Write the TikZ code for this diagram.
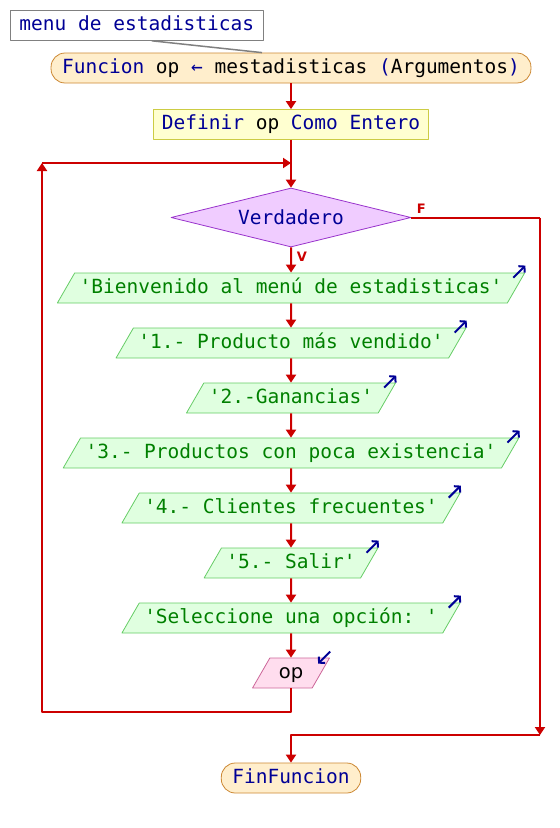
\documentclass[tikz,border=0pt]{standalone}
\usepackage{fontspec}
\setmonofont{DejaVu Sans Mono}
\newfontfamily\lblfont{DejaVu Sans}
\usetikzlibrary{shapes.geometric,arrows.meta}
\definecolor{flowred}{RGB}{204,0,0}
\definecolor{kwblue}{RGB}{0,0,150}
\definecolor{outgreen}{RGB}{0,128,0}
\definecolor{termfill}{RGB}{255,238,204}
\definecolor{termedge}{RGB}{204,136,51}
\definecolor{procfill}{RGB}{255,255,208}
\definecolor{procedge}{RGB}{204,204,68}
\definecolor{condfill}{RGB}{240,204,255}
\definecolor{condedge}{RGB}{153,51,204}
\definecolor{outfill}{RGB}{224,255,224}
\definecolor{outedge}{RGB}{102,204,102}
\definecolor{inpfill}{RGB}{255,221,238}
\definecolor{inpedge}{RGB}{204,102,153}
\begin{document}
\begin{tikzpicture}[x=1pt, y=-1pt, font=\ttfamily\fontsize{19.5}{22}\selectfont, line join=round, >={Triangle[width=10pt,length=8pt]},
	flow/.style={draw=flowred, line width=2pt},
	shp/.style={line width=0.8pt, text height=15pt, text depth=5pt, inner ysep=5pt},
	cmtbox/.style={shp, draw=gray, fill=white, inner xsep=9pt, text=kwblue},
	termbox/.style={shp, draw=termedge, fill=termfill, rounded corners=14pt, inner xsep=11pt, text=kwblue},
	procbox/.style={shp, draw=procedge, fill=procfill, inner xsep=8pt, text=kwblue},
	condbox/.style={diamond, aspect=4, draw=condedge, fill=condfill, line width=0.8pt, inner sep=0pt, minimum width=240pt, minimum height=59pt, text=kwblue},
	outbox/.style={shp, trapezium, trapezium left angle=60, trapezium right angle=120, draw=outedge, fill=outfill, inner xsep=5pt, text=outgreen},
	inbox/.style={shp, trapezium, trapezium left angle=60, trapezium right angle=120, draw=inpedge, fill=inpfill, inner xsep=9pt, text=black},
	lbl/.style={text=flowred, font=\lblfont\bfseries\fontsize{13}{13}\selectfont, inner sep=0pt},
	icon/.style={draw=kwblue, line width=2pt, -{Straight Barb[length=4pt,width=9pt]}}]
			\useasboundingbox (0,0) rectangle (560,828);
			\node[cmtbox, anchor=north west] (cmt) at (10,10) {menu de estadisticas};
			\node[termbox] (fun) at (291,68) {Funcion \color{black}op \color{kwblue}← \color{black}mestadisticas \color{kwblue}(\color{black}Argumentos\color{kwblue})};
			\node[procbox] (def) at (291,124.5) {Definir \color{black}op \color{kwblue}Como Entero};
			\node[condbox] (cnd) at (291,217.5) {Verdadero};
			\node[outbox] (o1) at (291,288) {'Bienvenido al menú de estadisticas'};
			\node[outbox] (o2) at (291,343) {'1.- Producto más vendido'};
			\node[outbox] (o3) at (291,398) {'2.-Ganancias'};
			\node[outbox] (o4) at (291,453) {'3.- Productos con poca existencia'};
			\node[outbox] (o5) at (291,508) {'4.- Clientes frecuentes'};
			\node[outbox] (o6) at (291,563) {'5.- Salir'};
			\node[outbox] (o7) at (291,618) {'Seleccione una opción: '};
			\node[inbox] (rd) at (291,673) {\lblfont op};
			\node[termbox] (fin) at (291,778) {FinFuncion};
			\node[lbl] (lf) at ([shift={(10,-9)}]cnd.east) {F};
			\node[lbl] (lv) at ([shift={(11,9)}]cnd.south) {V};
			\coordinate (lb) at (42,712);
			\coordinate (lt) at (42,163);
			\coordinate (fr) at (540,217.5);
			\coordinate (fb) at (540,735);
			\draw[gray, line width=1.5pt] ([xshift=15pt]cmt.south) -- ([xshift=-29pt]fun.north);
			\draw[flow,->] (fun) -- (def);
			\draw[flow,->] (def) -- (cnd);
			\draw[flow,->] (cnd) -- (o1);
			\draw[flow,->] (o1) -- (o2);
			\draw[flow,->] (o2) -- (o3);
			\draw[flow,->] (o3) -- (o4);
			\draw[flow,->] (o4) -- (o5);
			\draw[flow,->] (o5) -- (o6);
			\draw[flow,->] (o6) -- (o7);
			\draw[flow,->] (o7) -- (rd);
			\draw[flow,->] (rd) -- (rd |- lb) -- (lb) -- (lt);
			\draw[flow,->] (lt) -- (lt -| cnd.north);
			\draw[flow] (cnd.east) -- (fr);
			\draw[flow,->] (fr) -- (fb);
			\draw[flow,->] (fb) -- (fb -| fin.north) -- (fin);
			\draw[icon] ([shift={(-12,5)}]o1.top right corner) -- ++(12,-12);
			\draw[icon] ([shift={(-12,5)}]o2.top right corner) -- ++(12,-12);
			\draw[icon] ([shift={(-12,5)}]o3.top right corner) -- ++(12,-12);
			\draw[icon] ([shift={(-12,5)}]o4.top right corner) -- ++(12,-12);
			\draw[icon] ([shift={(-12,5)}]o5.top right corner) -- ++(12,-12);
			\draw[icon] ([shift={(-12,5)}]o6.top right corner) -- ++(12,-12);
			\draw[icon] ([shift={(-12,5)}]o7.top right corner) -- ++(12,-12);
			\draw[icon] ([shift={(0,-6)}]rd.top right corner) -- ++(-12,12);
		\end{tikzpicture}
\end{document}
